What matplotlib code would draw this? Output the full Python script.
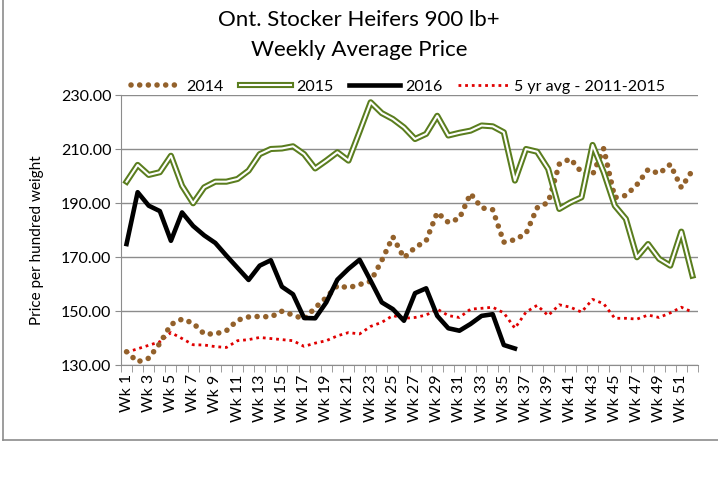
import numpy as np
import matplotlib
matplotlib.use('Agg')
import matplotlib.pyplot as plt
from matplotlib.lines import Line2D
from matplotlib.legend_handler import HandlerTuple

plt.rcParams['font.family'] = ['Lato', 'DejaVu Sans']

# weekly prices
weeks = np.arange(1, 53)
week_labels = ['Wk %d' % w for w in weeks]

y2014 = [134.9, 131.2, 132.5, 138.0, 145.0, 147.0, 145.5, 141.5, 141.5, 142.7,
         146.6, 147.8, 148.0, 147.8, 149.9, 148.5, 147.0, 151.2, 155.0, 159.4,
         158.6, 159.8, 161.0, 168.7, 177.5, 169.7, 173.5, 176.0, 186.5, 182.8,
         184.3, 193.5, 188.2, 187.5, 175.5, 176.4, 178.7, 188.2, 190.2, 204.4,
         206.4, 201.4, 200.5, 210.2, 192.0, 192.8, 196.8, 202.4, 200.9, 204.3,
         195.7, 202.1]
y2015 = [197.9, 204.1, 200.4, 201.4, 207.5, 196.4, 189.9, 195.8, 197.9, 197.9,
         198.9, 202.0, 208.1, 210.0, 210.2, 211.0, 208.1, 202.8, 205.7, 208.8,
         205.7, 216.4, 227.3, 223.3, 221.1, 218.0, 213.7, 215.6, 222.3, 215.0,
         216.0, 216.8, 218.7, 218.4, 216.2, 198.3, 210.0, 209.0, 202.6, 187.8,
         190.2, 192.1, 211.5, 201.4, 189.0, 184.1, 169.9, 174.8, 169.3, 166.8,
         179.4, 163.1]
y2016 = [174.8, 194.0, 189.0, 187.0, 176.0, 186.5, 181.5, 178.0, 175.2, 170.5,
         166.0, 161.5, 166.8, 168.8, 159.0, 156.2, 147.4, 147.3, 153.2, 161.6,
         165.6, 169.0, 161.2, 153.2, 150.7, 146.4, 156.6, 158.4, 148.2, 143.6,
         142.7, 145.2, 148.2, 148.8, 137.4, 136.1]
y5yr = [134.7, 136.0, 137.3, 138.6, 142.0, 139.8, 137.5, 137.4, 136.8, 136.5,
        139.0, 139.4, 140.2, 139.8, 139.4, 139.0, 136.9, 138.1, 139.0, 140.8,
        142.0, 141.5, 144.3, 145.8, 148.3, 147.3, 147.6, 148.5, 150.7, 148.3,
        147.6, 150.7, 151.0, 151.4, 149.3, 143.6, 149.6, 152.1, 148.3, 152.3,
        151.4, 149.6, 154.3, 152.7, 147.3, 147.3, 147.0, 148.5, 147.6, 149.3,
        151.4, 149.6]

yticks = [130, 150, 170, 190, 210, 230]

brown = '#93612B'
green = '#5A7D1E'
red = '#E00000'
grey = '#8C8C8C'

fig = plt.figure(figsize=(7.18, 4.85), dpi=100)
ax = fig.add_axes([121 / 718, 1 - 366 / 485, 577 / 718, 270 / 485])

l14, = ax.plot(weeks, y2014, color=brown, lw=4, linestyle=(0, (0.01, 1.55)),
               dash_capstyle='round', zorder=3)
g_out, = ax.plot(weeks, y2015, color=green, lw=4.4, zorder=4)
g_in, = ax.plot(weeks, y2015, color='white', lw=1.5, zorder=4)
l16, = ax.plot(weeks[:len(y2016)], y2016, color='black', lw=3.3, zorder=5)
l5, = ax.plot(weeks, y5yr, color=red, lw=2.0, linestyle=(0, (1, 1.4)),
              dash_capstyle='butt', zorder=2)

ax.set_xlim(0.5, 52.5)
ax.set_ylim(130, 230)
ax.set_yticks(yticks)
ax.set_yticklabels(['%.2f' % v for v in yticks], fontsize=11.5)
ax.yaxis.grid(True, color=grey, lw=1.0)
ax.set_axisbelow(True)
ax.tick_params(axis='y', length=4, color=grey, pad=3)

ax.set_xticks(weeks[::2])
ax.set_xticklabels(week_labels[::2], rotation=90, fontsize=11.5)
ax.set_xticks(np.arange(0.5, 53, 1), minor=True)
ax.tick_params(axis='x', which='major', length=0, pad=6)
ax.tick_params(axis='x', which='minor', length=5, color=grey)

for s in ['top', 'right']:
    ax.spines[s].set_visible(False)
for s in ['left', 'bottom']:
    ax.spines[s].set_color(grey)

fig.text(0.5, 1 - 20 / 485, 'Ont. Stocker Heifers 900 lb+', ha='center', va='center', fontsize=16)
fig.text(0.5, 1 - 50 / 485, 'Weekly Average Price', ha='center', va='center', fontsize=16)
fig.text(37.5 / 718, 1 - 240 / 485, 'Price per hundred weight', rotation=90,
         ha='center', va='center', fontsize=11)

fig.legend([l14, (g_out, g_in), l16, l5],
           ['2014', '2015', '2016', '5 yr avg - 2011-2015'],
           handler_map={tuple: HandlerTuple(ndivide=1, pad=0)},
           loc='center', bbox_to_anchor=(398 / 718, 1 - 87 / 485), ncol=4,
           frameon=False, fontsize=11.5, handlelength=3.2, handletextpad=0.3,
           columnspacing=1.0, borderpad=0)

# chart frame (left and bottom edges only)
fy = 1 - 441 / 485
fx = 2.5 / 718
fig.add_artist(Line2D([fx, fx], [1, fy], color=grey, lw=1.2, transform=fig.transFigure))
fig.add_artist(Line2D([fx, 1], [fy, fy], color=grey, lw=1.2, transform=fig.transFigure))

fig.savefig('out.png', dpi=100)
